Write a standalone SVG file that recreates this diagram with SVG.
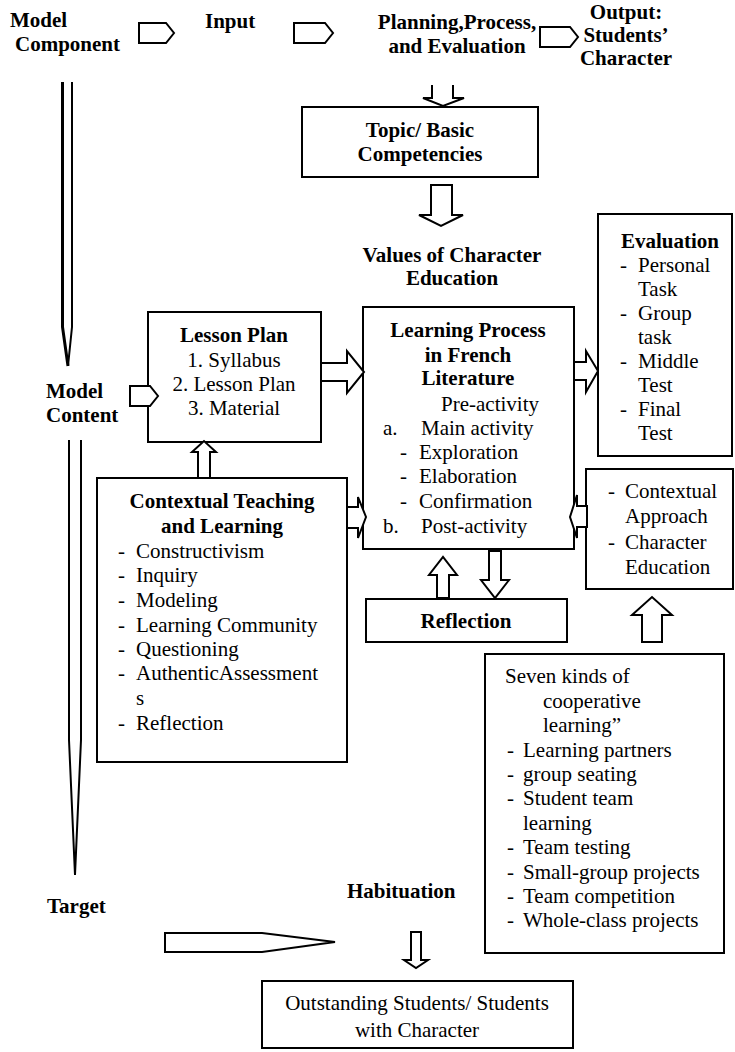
<svg xmlns="http://www.w3.org/2000/svg" width="735" height="1052" viewBox="0 0 735 1052">
<style>
.b{font-family:"Liberation Serif","Times New Roman",serif;font-size:21px;font-weight:bold;fill:#000}
.r{font-family:"Liberation Serif","Times New Roman",serif;font-size:21px;fill:#000}
.m{text-anchor:middle}
.box{fill:#fff;stroke:#000;stroke-width:2}
.ar{fill:#fff;stroke:#000;stroke-width:2;stroke-linejoin:miter}
.ln{fill:none;stroke:#000;stroke-width:2}
</style>
<rect width="735" height="1052" fill="#fff"/>
<g id="header">
<text class="b" x="10" y="27">Model</text>
<text class="b" x="15" y="51">Component</text>
<text class="b" x="205" y="28">Input</text>
<text class="b m" x="457" y="29">Planning,Process,</text>
<text class="b m" x="457" y="53">and Evaluation</text>
<text class="b m" x="626" y="19">Output:</text>
<text class="b m" x="626" y="42">Students’</text>
<text class="b m" x="626" y="65">Character</text>
</g>
<g id="topic">
<rect class="box" x="302" y="107" width="236" height="70"/>
<text class="b m" x="420" y="137">Topic/ Basic</text>
<text class="b m" x="420" y="161">Competencies</text>
</g>
<g id="values">
<text class="b m" x="452" y="262">Values of Character</text>
<text class="b m" x="452" y="285">Education</text>
</g>
<g id="lessonplan">
<rect class="box" x="148" y="312" width="173" height="130"/>
<text class="b m" x="234" y="342">Lesson Plan</text>
<text class="r m" x="234" y="367">1. Syllabus</text>
<text class="r m" x="234" y="391">2. Lesson Plan</text>
<text class="r m" x="234" y="415">3. Material</text>
</g>
<g id="modelcontent">
<text class="b" x="46" y="398">Model</text>
<text class="b" x="46" y="422">Content</text>
</g>
<g id="learning">
<rect class="box" x="363" y="307" width="211" height="242"/>
<text class="b m" x="468" y="337">Learning Process</text>
<text class="b m" x="468" y="362">in French</text>
<text class="b m" x="468" y="385">Literature</text>
<text class="r" x="441" y="411">Pre-activity</text>
<text class="r" x="383" y="435">a.</text>
<text class="r" x="421" y="435">Main activity</text>
<text class="r" x="400" y="459">-</text>
<text class="r" x="419" y="459">Exploration</text>
<text class="r" x="400" y="483">-</text>
<text class="r" x="419" y="483">Elaboration</text>
<text class="r" x="400" y="508">-</text>
<text class="r" x="419" y="508">Confirmation</text>
<text class="r" x="383" y="533">b.</text>
<text class="r" x="421" y="533">Post-activity</text>
</g>
<g id="evaluation">
<rect class="box" x="598" y="214" width="134" height="242"/>
<text class="b" x="621" y="248">Evaluation</text>
<text class="r" x="620" y="272">-</text>
<text class="r" x="638" y="272">Personal</text>
<text class="r" x="638" y="296">Task</text>
<text class="r" x="620" y="320">-</text>
<text class="r" x="638" y="320">Group</text>
<text class="r" x="638" y="344">task</text>
<text class="r" x="620" y="368">-</text>
<text class="r" x="638" y="368">Middle</text>
<text class="r" x="638" y="392">Test</text>
<text class="r" x="620" y="416">-</text>
<text class="r" x="638" y="416">Final</text>
<text class="r" x="638" y="440">Test</text>
</g>
<g id="approach">
<rect class="box" x="586" y="469" width="147" height="120"/>
<text class="r" x="608" y="498">-</text>
<text class="r" x="625" y="498">Contextual</text>
<text class="r" x="625" y="523">Approach</text>
<text class="r" x="608" y="549">-</text>
<text class="r" x="625" y="549">Character</text>
<text class="r" x="625" y="574">Education</text>
</g>
<g id="ctl">
<rect class="box" x="97" y="478" width="250" height="284"/>
<text class="b m" x="222" y="508">Contextual Teaching</text>
<text class="b m" x="222" y="533">and Learning</text>
<text class="r" x="118" y="558">-</text><text class="r" x="136" y="558">Constructivism</text>
<text class="r" x="118" y="582">-</text><text class="r" x="136" y="582">Inquiry</text>
<text class="r" x="118" y="607">-</text><text class="r" x="136" y="607">Modeling</text>
<text class="r" x="118" y="632">-</text><text class="r" x="136" y="632">Learning Community</text>
<text class="r" x="118" y="656">-</text><text class="r" x="136" y="656">Questioning</text>
<text class="r" x="118" y="680">-</text><text class="r" x="136" y="680">AuthenticAssessment</text>
<text class="r" x="136" y="705">s</text>
<text class="r" x="118" y="730">-</text><text class="r" x="136" y="730">Reflection</text>
</g>
<g id="reflection">
<rect class="box" x="366" y="599" width="201" height="43"/>
<text class="b m" x="466" y="628">Reflection</text>
</g>
<g id="cooperative">
<rect class="box" x="485" y="654" width="239" height="299"/>
<text class="r" x="505" y="683">Seven kinds of</text>
<text class="r" x="543" y="708">cooperative</text>
<text class="r" x="543" y="732">learning”</text>
<text class="r" x="507" y="757">-</text><text class="r" x="523" y="757">Learning partners</text>
<text class="r" x="507" y="781">-</text><text class="r" x="523" y="781">group seating</text>
<text class="r" x="507" y="805">-</text><text class="r" x="523" y="805">Student team</text>
<text class="r" x="523" y="830">learning</text>
<text class="r" x="507" y="854">-</text><text class="r" x="523" y="854">Team testing</text>
<text class="r" x="507" y="879">-</text><text class="r" x="523" y="879">Small-group projects</text>
<text class="r" x="507" y="903">-</text><text class="r" x="523" y="903">Team competition</text>
<text class="r" x="507" y="927">-</text><text class="r" x="523" y="927">Whole-class projects</text>
</g>
<g id="target">
<text class="b" x="47" y="913">Target</text>
<text class="b" x="347" y="898">Habituation</text>
</g>
<g id="outstanding">
<rect class="box" x="262" y="981" width="311" height="67"/>
<text class="r m" x="417" y="1010">Outstanding Students/ Students</text>
<text class="r m" x="417" y="1037">with Character</text>
</g>
<g id="connectors">
<path class="ar" d="M139,23 H166 L174,33 L166,43 H139 Z"/>
<path class="ar" d="M294,23 H325 L333,33 L325,43 H294 Z"/>
<path class="ar" d="M540,27 H570 L578,37 L570,47 H540 Z"/>
<path class="ln" d="M432,85 V98 H423 L443,106 L464,98 H453 V85"/>
<path class="ar" d="M431,185 H452 V215 H463 L441,226 L419,215 H431 Z"/>
<path class="ln" d="M72,82 V327 L68,366"/>
<path class="ln" style="stroke-width:3" d="M62.5,82 V327 L68,366"/>
<path class="ar" d="M130,386 H150 L158,396 L150,406 H130 Z"/>
<path class="ln" d="M69,440 V740 L75,875 L81,740 V440"/>
<path class="ar" d="M321,363 H347 V351 L364,372 L347,393 V381 H321 Z"/>
<path class="ar" d="M198,478 V452 H192 L204,441 L216,452 H210 V478 Z"/>
<path class="ar" d="M347,507 H358 V497 L366,517 L358,538 V528 H347 Z"/>
<path class="ar" d="M574,362 H586 V351 L598,371 L586,392 V380 H574 Z"/>
<path class="ar" d="M587,506 H577 V495 L570,517 L577,538 V527 H587 Z"/>
<path class="ar" d="M437,598 V575 H429 L443,557 L457,575 H449 V598 Z"/>
<path class="ar" d="M489,551 V580 H481 L495,598 L509,580 H501 V551 Z"/>
<path class="ar" d="M642,642 V615 H632 L652,597 L672,615 H662 V642 Z"/>
<path class="ar" d="M165,933 H262 L335,942 L262,952 H165 Z"/>
<path class="ar" d="M411,932 H421 V960 H428 L416,968 L404,960 H411 Z"/>
</g>
</svg>
